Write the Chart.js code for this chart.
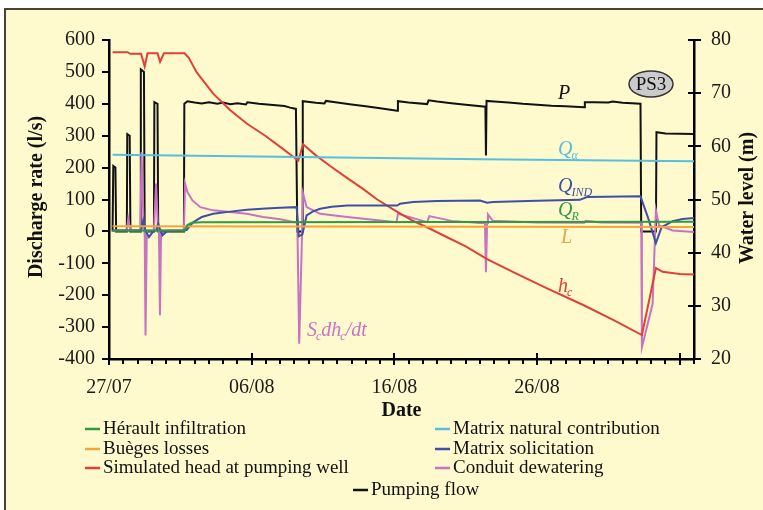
<!DOCTYPE html>
<html>
<head>
<meta charset="utf-8">
<script src="https://cdn.jsdelivr.net/npm/chart.js@4.4.1/dist/chart.umd.min.js"></script>
<style>
  html, body { margin: 0; padding: 0; background: #fff; }
  canvas { display: block; }
</style>
</head>
<body>
<canvas id="chart" width="763" height="510"></canvas>
<script>
// tick labels
const dateLabels = ['27/07', '06/08', '16/08', '26/08', '05/09'];

// days counted from 27/07
const pumpDays = [0.25, 0.3, 0.45, 0.5, 1.25, 1.28, 1.45, 1.5, 2.2, 2.23, 2.45, 2.5, 3.15, 3.18, 3.4, 3.45, 5.25, 5.28, 5.5, 6.0, 6.5, 7.0, 7.6, 8.0, 8.5, 9.0, 9.6, 9.7, 10.5, 11.5, 12.3, 12.7, 13.1, 13.2, 13.55, 13.58, 14.5, 15.1, 15.2, 16.0, 17.0, 18.0, 19.0, 20.2, 20.25, 21.0, 22.3, 22.4, 23.0, 24.0, 25.0, 26.38, 26.42, 26.46, 27.0, 28.0, 29.0, 30.0, 31.0, 32.0, 33.3, 33.35, 34.0, 35.0, 35.3, 36.0, 37.25, 37.3, 38.33, 38.37, 39.0, 40.0, 41.0];
const pumpFlow = [0, 205, 200, 0, 0, 305, 300, 0, 0, 508, 500, 0, 0, 405, 400, 0, 0, 400, 408, 404, 401, 405, 400, 404, 399, 402, 398, 405, 400, 396, 393, 388, 384, 0, 0, 408, 403, 401, 409, 404, 398, 392, 386, 378, 408, 404, 399, 411, 407, 402, 397, 391, 238, 409, 407, 404, 400, 397, 394, 392, 389, 405, 405, 404, 407, 403, 400, 0, 0, 311, 307, 306, 305];

const headDays = [0.25, 1.3, 1.5, 2.25, 2.5, 2.7, 3.4, 3.58, 3.85, 5.3, 5.6, 6.15, 7.3, 8.5, 9.65, 11.0, 12.0, 13.27, 13.6, 14.5, 15.5, 16.6, 17.8, 18.8, 20.0, 21.3, 22.5, 23.7, 25.0, 26.0, 26.5, 28.3, 30.7, 33.2, 35.3, 37.35, 38.33, 38.8, 40.0, 41.0];
const headLevel = [77.7, 77.7, 77.4, 77.4, 75.0, 77.5, 77.5, 75.9, 77.5, 77.5, 76.6, 73.9, 69.9, 66.8, 64.3, 61.9, 59.9, 57.3, 60.4, 58.3, 56.3, 54.2, 52.0, 50.0, 48.0, 46.0, 44.5, 42.9, 41.2, 39.6, 38.8, 36.4, 33.3, 30.2, 27.4, 24.5, 37.1, 36.4, 36.0, 35.9];

const alphaDays = [0.25, 13.3, 26.0, 41.0];
const alphaFlow = [240, 233, 226, 220];

const lossDays = [0.25, 41.0];
const lossFlow = [16, 14];

const heraultDays = [0.25, 5.3, 5.5, 5.8, 6.5, 41.0];
const heraultFlow = [3, 3, 20, 27, 29, 30];

const indDays = [0.25, 2.25, 2.4, 2.55, 2.8, 3.1, 3.3, 3.45, 3.6, 3.75, 4.1, 5.3, 5.45, 5.9, 6.5, 7.3, 8.5, 9.65, 11.0, 12.0, 13.15, 13.3, 13.55, 13.85, 14.3, 14.8, 15.6, 16.7, 20.2, 20.4, 21.3, 23.0, 26.0, 26.5, 26.9, 30.0, 33.0, 33.5, 37.25, 37.8, 38.33, 38.73, 39.5, 40.2, 41.0];
const indFlow = [3, 3, 34, 3, -18, 0, 3, 25, 3, -12, 2, 3, 5, 29, 45, 55, 62, 68, 72, 74, 76, -15, -10, 50, 63, 71, 77, 81, 81, 87, 92, 95, 97, 90, 92, 96, 99, 108, 110, 40, -37, 13, 32, 39, 42];

const condDays = [0.25, 1.25, 1.35, 1.5, 2.2, 2.28, 2.42, 2.5, 2.56, 2.65, 3.15, 3.3, 3.42, 3.5, 3.57, 3.65, 5.25, 5.33, 5.5, 5.85, 6.4, 7.3, 9.65, 10.8, 12.0, 13.0, 13.2, 13.33, 13.5, 13.6, 13.85, 14.8, 16.7, 19.0, 20.15, 20.25, 22.3, 22.45, 24.0, 26.0, 26.35, 26.42, 26.5, 26.56, 26.9, 30.0, 33.3, 33.4, 34.5, 37.3, 37.35, 38.1, 38.33, 38.55, 39.5, 41.0];
const condFlow = [3, 3, 40, 3, 3, 249, 30, 3, -326, 3, 3, 150, 20, 3, -263, 3, 3, 150, 123, 97, 76, 66, 55, 45, 38, 29, 29, -352, -60, 119, 76, 55, 45, 34, 29, 55, 29, 48, 33, 26, 26, -128, 26, 53, 33, 28, 27, 33, 28, 27, -363, -227, 66, 19, 3, -2];

const FONT = '"Liberation Serif", "Times New Roman", serif';
const BG = '#FFFACD';

function pts(xs, ys) {
    return xs.map((d, i) => ({ x: d, y: ys[i] }));
}

const series = [
    { label: 'Hérault infiltration', color: '#2E9B3F', data: pts(heraultDays, heraultFlow), axis: 'y' },
    { label: 'Matrix natural contribution', color: '#55BFE0', data: pts(alphaDays, alphaFlow), axis: 'y' },
    { label: 'Buèges losses', color: '#F2A53A', data: pts(lossDays, lossFlow), axis: 'y' },
    { label: 'Matrix solicitation', color: '#3E4FA6', data: pts(indDays, indFlow), axis: 'y' },
    { label: 'Simulated head at pumping well', color: '#E0403A', data: pts(headDays, headLevel), axis: 'y2' },
    { label: 'Conduit dewatering', color: '#C673C4', data: pts(condDays, condFlow), axis: 'y' },
    { label: 'Pumping flow', color: '#111111', data: pts(pumpDays, pumpFlow), axis: 'y' },
];

// background, frame, ticks, titles, legend, labels
const decorations = {
    id: 'decorations',
    beforeDraw(chart) {
        const ctx = chart.ctx;
        ctx.save();
        ctx.fillStyle = '#fff';
        ctx.fillRect(0, 0, chart.width, chart.height);
        ctx.fillStyle = BG;
        ctx.fillRect(5, 9, chart.width - 5, chart.height - 9);
        ctx.strokeStyle = '#48423a';
        ctx.lineWidth = 2;
        ctx.beginPath();
        ctx.moveTo(5, chart.height);
        ctx.lineTo(5, 9);
        ctx.lineTo(chart.width, 9);
        ctx.stroke();
        ctx.restore();
    },
    afterDraw(chart) {
        const ctx = chart.ctx;
        const xs = chart.scales.x, ys = chart.scales.y, y2 = chart.scales.y2;
        const area = chart.chartArea;
        ctx.save();
        ctx.strokeStyle = '#000';
        ctx.lineWidth = 2;
        ctx.beginPath();
        for (let d = 0; d <= 41; d++) {
            const px = Math.round(xs.getPixelForValue(d));
            if (d % 10 === 0) {
                ctx.moveTo(px, area.bottom - 6);
                ctx.lineTo(px, area.bottom + 6);
            } else {
                ctx.moveTo(px, area.bottom);
                ctx.lineTo(px, area.bottom + 5);
            }
        }
        for (let v = -400; v <= 600; v += 100) {
            const py = Math.round(ys.getPixelForValue(v));
            ctx.moveTo(area.left - 7, py);
            ctx.lineTo(area.left, py);
        }
        for (let v = 20; v <= 80; v += 10) {
            const py = Math.round(y2.getPixelForValue(v));
            ctx.moveTo(area.right - 6, py);
            ctx.lineTo(area.right + 7, py);
        }
        ctx.stroke();

        // axis titles
        ctx.fillStyle = '#111';
        ctx.font = 'bold 20px ' + FONT;
        ctx.textAlign = 'center';
        ctx.textBaseline = 'middle';
        ctx.fillText('Date', (area.left + area.right) / 2, 411);
        ctx.save();
        ctx.translate(37, 197);
        ctx.rotate(-Math.PI / 2);
        ctx.fillText('Discharge rate (l/s)', 0, 0);
        ctx.restore();
        ctx.save();
        ctx.translate(748, 198);
        ctx.rotate(-Math.PI / 2);
        ctx.fillText('Water level (m)', 0, 0);
        ctx.restore();

        // legend
        const slots = [[85, 429], [435, 429], [85, 449], [435, 449], [85, 468], [435, 468], [353, 490]];
        ctx.font = '19px ' + FONT;
        ctx.textAlign = 'left';
        chart.data.datasets.forEach((ds, i) => {
            const [lx, ly] = slots[i];
            ctx.strokeStyle = ds.borderColor;
            ctx.lineWidth = 2.5;
            ctx.beginPath();
            ctx.moveTo(lx, ly);
            ctx.lineTo(lx + 15, ly);
            ctx.stroke();
            ctx.fillStyle = '#111';
            ctx.fillText(ds.label, lx + 18, ly);
        });

        // series labels
        const tag = (main, sub, x, y, color) => {
            ctx.fillStyle = color;
            ctx.font = 'italic 20px ' + FONT;
            ctx.textAlign = 'left';
            ctx.textBaseline = 'middle';
            ctx.fillText(main, x, y);
            if (sub) {
                const w = ctx.measureText(main).width;
                ctx.font = 'italic 12px ' + FONT;
                ctx.fillText(sub, x + w - 1, y + 6);
            }
        };
        tag('P', '', 558, 94, '#111');
        tag('Q', 'α', 558, 150, '#55BFE0');
        tag('Q', 'IND', 558, 187, '#3E4FA6');
        tag('Q', 'R', 558, 211, '#2E9B3F');
        tag('L', '', 561, 238, '#E8A640');
        tag('h', 'c', 558, 287, '#E0403A');
        ctx.fillStyle = '#C673C4';
        let tx = 307;
        [['S', 'c'], ['dh', 'c'], ['/dt', '']].forEach(([m, s]) => {
            ctx.font = 'italic 20px ' + FONT;
            ctx.fillText(m, tx, 331);
            tx += ctx.measureText(m).width;
            if (s) {
                ctx.font = 'italic 12px ' + FONT;
                ctx.fillText(s, tx - 1, 337);
                tx += ctx.measureText(s).width - 1;
            }
        });

        // PS3 badge
        ctx.beginPath();
        ctx.ellipse(651, 84, 22, 13, 0, 0, Math.PI * 2);
        ctx.fillStyle = '#CBCBCB';
        ctx.fill();
        ctx.strokeStyle = '#333';
        ctx.lineWidth = 1.5;
        ctx.stroke();
        ctx.fillStyle = '#111';
        ctx.font = '19px ' + FONT;
        ctx.textAlign = 'center';
        ctx.fillText('PS3', 651, 85);
        ctx.restore();
    }
};

const tickFont = { family: FONT, size: 20 };

new Chart(document.getElementById('chart'), {
    type: 'line',
    data: {
        datasets: series.map(s => ({
            label: s.label,
            data: s.data,
            yAxisID: s.axis,
            borderColor: s.color,
            backgroundColor: s.color,
            borderWidth: 2,
            pointRadius: 0,
            tension: 0,
            fill: false,
        })),
    },
    options: {
        responsive: false,
        animation: false,
        layout: { padding: { top: 40, left: 0, right: 0, bottom: 0 } },
        plugins: { legend: { display: false }, tooltip: { enabled: false } },
        scales: {
            x: {
                type: 'linear', min: 0, max: 41,
                grid: { display: false },
                border: { color: '#000', width: 2.5 },
                ticks: {
                    stepSize: 10, padding: 9, color: '#1a1a1a', font: tickFont, maxRotation: 0,
                    callback: v => (v % 10 === 0 ? dateLabels[v / 10] : ''),
                },
                afterFit: s => { s.height = 151; },
            },
            y: {
                position: 'left', min: -400, max: 600,
                grid: { display: false },
                border: { color: '#000', width: 2.5 },
                ticks: { stepSize: 100, padding: 6, color: '#1a1a1a', font: tickFont },
                afterFit: s => { s.width = 109; },
            },
            y2: {
                position: 'right', min: 20, max: 80,
                grid: { display: false },
                border: { color: '#000', width: 2.5 },
                ticks: { stepSize: 10, padding: 9, color: '#1a1a1a', font: tickFont },
                afterFit: s => { s.width = 69; },
            },
        },
    },
    plugins: [decorations],
});
</script>
</body>
</html>
